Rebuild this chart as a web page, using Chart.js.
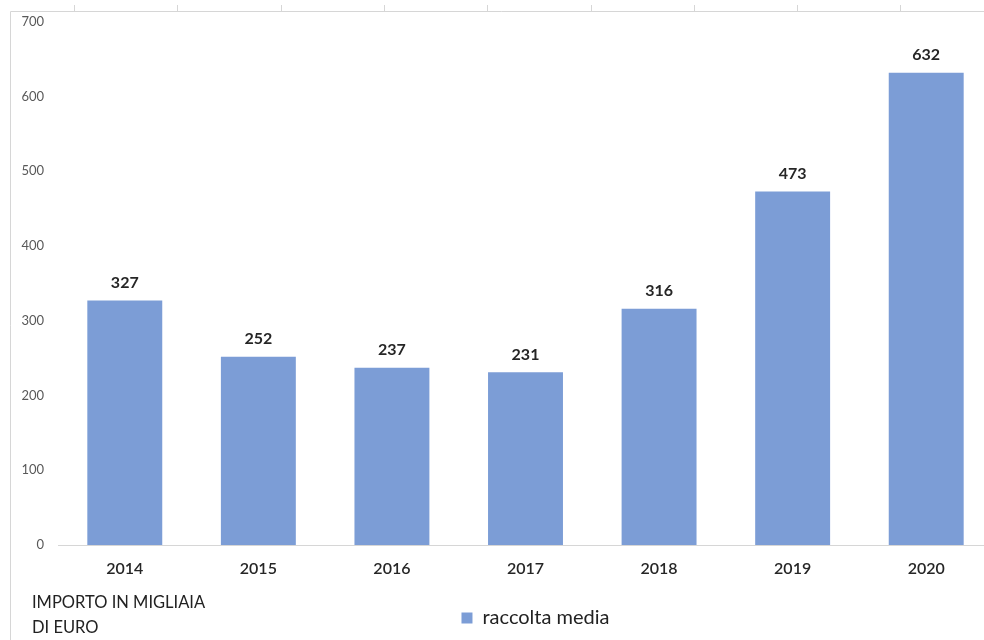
<!DOCTYPE html>
<html>
<head>
<meta charset="utf-8">
<script src="https://cdn.jsdelivr.net/npm/chart.js@4/dist/chart.umd.min.js"></script>
<style>
  html, body { margin: 0; padding: 0; background: #fff; overflow: hidden; width: 984px; height: 640px; }
  #wrap { position: absolute; left: 0; top: 0; width: 993px; height: 640px; }
  #unit { position: absolute; left: 32px; top: 590px; font: 16.5px Lato, sans-serif; color: #222; line-height: 25px; }
</style>
</head>
<body>
<div id="wrap"><canvas id="c" width="993" height="640"></canvas></div>
<div id="unit">IMPORTO IN MIGLIAIA<br>DI EURO</div>
<script>
// Years on the category axis
const years = ['2014', '2015', '2016', '2017', '2018', '2019', '2020'];
// Average amount raised per year (thousands of euro)
const raccoltaMedia = [327, 252, 237, 231, 316, 473, 632];
// Value axis range
const yMin = 0;
const yMax = 700;
const yStep = 100;

const BAR_COLOR = '#7c9dd6';
const LINE_COLOR = '#d6d6d6';

// Light frame along the top and left edges, with small ticks above the top edge
const framePlugin = {
  id: 'frame',
  beforeDraw(chart) {
    const ctx = chart.ctx;
    ctx.save();
    ctx.strokeStyle = LINE_COLOR;
    ctx.lineWidth = 1;
    ctx.beginPath();
    ctx.moveTo(10.5, chart.height);
    ctx.lineTo(10.5, 11.5);
    ctx.lineTo(chart.width, 11.5);
    for (let i = 0; i < 9; i++) {
      const x = Math.round(74 + i * 103.3) + 0.5;
      ctx.moveTo(x, 5);
      ctx.lineTo(x, 11);
    }
    ctx.stroke();
    ctx.restore();
  }
};

// Value labels above each bar
const valueLabels = {
  id: 'valueLabels',
  afterDatasetsDraw(chart) {
    const ctx = chart.ctx;
    ctx.save();
    ctx.font = 'bold 16px Lato, sans-serif';
    ctx.fillStyle = '#262626';
    ctx.textAlign = 'center';
    ctx.textBaseline = 'middle';
    chart.getDatasetMeta(0).data.forEach((bar, i) => {
      ctx.fillText(String(chart.data.datasets[0].data[i]), bar.x, bar.y - 18);
    });
    ctx.restore();
  }
};

// Move the legend to sit right of centre
const legendShift = {
  id: 'legendShift',
  afterLayout(chart) {
    const lg = chart.legend;
    if (lg) { lg.left += 34; lg.right += 34; }
  }
};

new Chart(document.getElementById('c'), {
  type: 'bar',
  data: {
    labels: years,
    datasets: [{
      label: 'raccolta media',
      data: raccoltaMedia,
      backgroundColor: BAR_COLOR,
      borderWidth: 0,
      barPercentage: 0.561,
      categoryPercentage: 1.0
    }]
  },
  options: {
    responsive: false,
    animation: false,
    devicePixelRatio: 1,
    layout: { padding: { left: 10, right: 0, top: 20, bottom: 2 } },
    plugins: {
      tooltip: { enabled: false },
      legend: {
        position: 'bottom',
        labels: {
          boxWidth: 11,
          boxHeight: 11,
          padding: 8,
          color: '#222',
          font: { family: 'Lato, sans-serif', size: 20 }
        }
      }
    },
    scales: {
      x: {
        grid: { display: false, drawTicks: false },
        border: { display: true, color: LINE_COLOR, width: 1 },
        ticks: {
          padding: 14,
          color: '#262626',
          font: { family: 'Lato, sans-serif', size: 16, weight: '600' }
        },
        afterFit(s) { s.height = 55; }
      },
      y: {
        min: yMin,
        max: yMax,
        grid: { display: false, drawTicks: false },
        border: { display: false },
        ticks: {
          stepSize: yStep,
          padding: 14,
          color: '#595959',
          font: { family: 'Lato, sans-serif', size: 13 }
        },
        afterFit(s) { s.width = 48; }
      }
    }
  },
  plugins: [framePlugin, valueLabels, legendShift]
});
</script>
</body>
</html>
